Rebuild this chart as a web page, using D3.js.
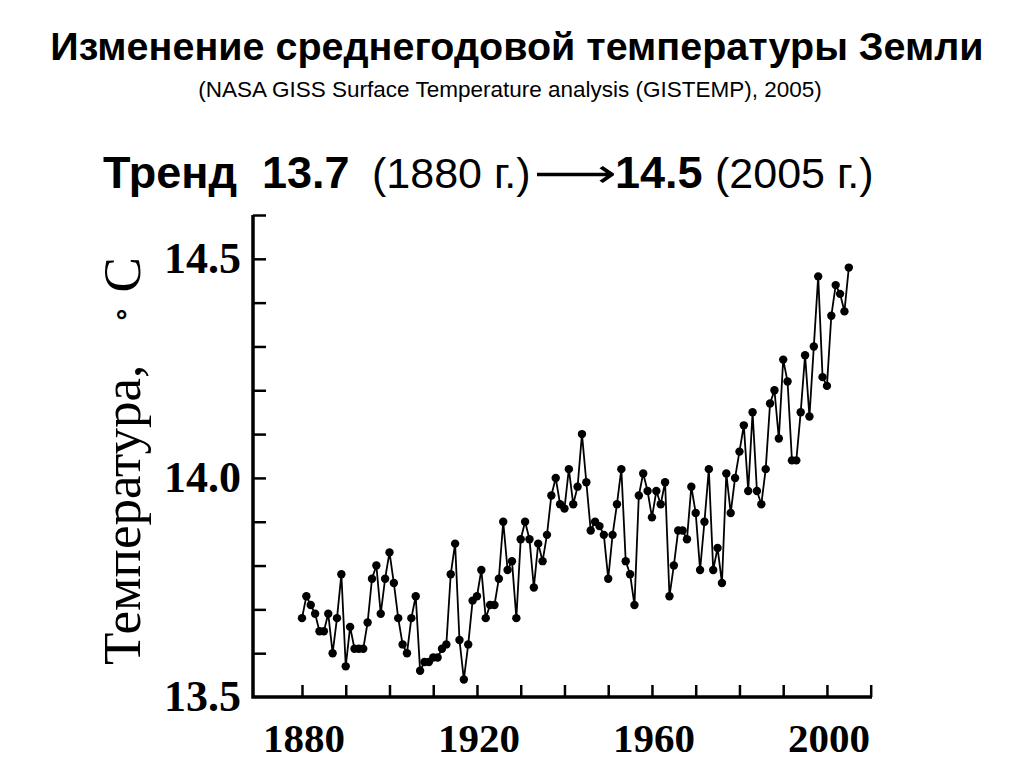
<!DOCTYPE html>
<html>
<head>
<meta charset="utf-8">
<script src="https://cdn.jsdelivr.net/npm/d3@7"></script>
<style>
  body { margin: 0; background: #fff; }
</style>
</head>
<body>
<div id="chart"></div>
<script>
// Annual mean temperature, deg C, one value per year starting 1880
var firstYear = 1880;
var temps = [
  13.68, 13.73, 13.71, 13.69, 13.65, 13.65, 13.69, 13.60, 13.68, 13.78,
  13.57, 13.66, 13.61, 13.61, 13.61, 13.67, 13.77, 13.80, 13.69, 13.77,
  13.83, 13.76, 13.68, 13.62, 13.60, 13.68, 13.73, 13.56, 13.58, 13.58,
  13.59, 13.59, 13.61, 13.62, 13.78, 13.85, 13.63, 13.54, 13.62, 13.72,
  13.73, 13.79, 13.68, 13.71, 13.71, 13.77, 13.90, 13.79, 13.81, 13.68,
  13.86, 13.90, 13.86, 13.75, 13.85, 13.81, 13.87, 13.96, 14.00, 13.94,
  13.93, 14.02, 13.94, 13.98, 14.10, 13.99, 13.88, 13.90, 13.89, 13.87,
  13.77, 13.87, 13.94, 14.02, 13.81, 13.78, 13.71, 13.96, 14.01, 13.97,
  13.91, 13.97, 13.94, 13.99, 13.73, 13.80, 13.88, 13.88, 13.86, 13.98,
  13.92, 13.79, 13.90, 14.02, 13.79, 13.84, 13.76, 14.01, 13.92, 14.00,
  14.06, 14.12, 13.97, 14.15, 13.97, 13.94, 14.02, 14.17, 14.20, 14.09,
  14.27, 14.22, 14.04, 14.04, 14.15, 14.28, 14.14, 14.30, 14.46, 14.23,
  14.21, 14.37, 14.44, 14.42, 14.38, 14.48
];

// Axis ticks
var xTicks = [1880, 1890, 1900, 1910, 1920, 1930, 1940, 1950, 1960, 1970, 1980, 1990, 2000, 2010];
var xTickLabels = [1880, 1920, 1960, 2000];
var yTicks = [13.6, 13.7, 13.8, 13.9, 14.0, 14.1, 14.2, 14.3, 14.4, 14.5, 14.6];
var yTickLabels = [13.5, 14.0, 14.5];

var data = temps.map(function(t, i) { return {year: firstYear + i, temp: t}; });

var width = 1024, height = 767;
var sans = "Liberation Sans, Arial, sans-serif";
var serif = "Liberation Serif, Times New Roman, serif";

var svg = d3.select("#chart").append("svg")
    .attr("width", width)
    .attr("height", height);

// Titles
svg.append("text")
    .attr("x", 517).attr("y", 60)
    .attr("text-anchor", "middle")
    .style("font-family", sans)
    .style("font-weight", "bold")
    .style("font-size", "39.5px")
    .text("Изменение среднегодовой температуры Земли");

svg.append("text")
    .attr("x", 510).attr("y", 97)
    .attr("text-anchor", "middle")
    .style("font-family", sans)
    .style("font-size", "22.5px")
    .text("(NASA GISS Surface Temperature analysis (GISTEMP), 2005)");

// Trend line, pieces placed one by one
var trendY = 188;
function trendText(xPos, txt, bold, size) {
  return svg.append("text")
      .attr("x", xPos).attr("y", trendY)
      .style("font-family", sans)
      .style("font-weight", bold ? "bold" : "normal")
      .style("font-size", size + "px")
      .text(txt);
}
trendText(103, "Тренд", true, 45);
trendText(262, "13.7", true, 45);
trendText(372, "(1880 г.)", false, 43);
trendText(615, "14.5", true, 45);
trendText(715, "(2005 г.)", false, 43);
svg.append("text")
    .attr("transform", "translate(534," + (trendY - 1) + ") scale(1.45,1)")
    .style("font-family", "DejaVu Sans")
    .style("font-size", "40px")
    .text("⟶");

// Scales
var x = d3.scaleLinear()
    .domain([1868.8, 2010.3])
    .range([253, 872]);

var y = d3.scaleLinear()
    .domain([13.5, 14.6])
    .range([697, 215]);

// Axes with inward ticks
var xAxis = svg.append("g")
    .attr("transform", "translate(0," + y(13.5) + ")")
    .call(d3.axisTop(x).tickValues(xTicks).tickSize(12).tickFormat(""));
xAxis.select(".domain").remove();
xAxis.selectAll("line").attr("stroke-width", 2.5);

var yAxis = svg.append("g")
    .attr("transform", "translate(" + x(1868.8) + ",0)")
    .call(d3.axisRight(y).tickValues(yTicks).tickSize(13).tickFormat(""));
yAxis.select(".domain").remove();
yAxis.selectAll("line").attr("stroke-width", 2.5);

svg.append("path")
    .attr("d", "M" + x(1868.8) + "," + y(14.6) + "V" + y(13.5) + "H" + x(2010.3))
    .attr("fill", "none")
    .attr("stroke", "#000")
    .attr("stroke-width", 3.5);

// Tick labels
svg.selectAll(".xlab")
    .data(xTickLabels)
  .enter().append("text")
    .attr("class", "xlab")
    .attr("x", function(d) { return x(d) + 2; })
    .attr("y", 752)
    .attr("text-anchor", "middle")
    .style("font-family", serif)
    .style("font-weight", "bold")
    .style("font-size", "41px")
    .text(function(d) { return d; });

svg.selectAll(".ylab")
    .data(yTickLabels)
  .enter().append("text")
    .attr("class", "ylab")
    .attr("x", 241)
    .attr("y", function(d) { return y(d) + 14; })
    .attr("text-anchor", "end")
    .style("font-family", serif)
    .style("font-weight", "bold")
    .style("font-size", "44px")
    .text(function(d) { return d3.format(".1f")(d); });

// Y axis title
var yTitle = svg.append("text")
    .attr("transform", "translate(140,461) rotate(-90)")
    .attr("text-anchor", "middle")
    .style("font-family", serif)
    .style("font-size", "53px");
yTitle.append("tspan").text("Температура,");
yTitle.append("tspan").attr("dx", 42).attr("dy", -8)
    .style("font-family", "DejaVu Serif").style("font-size", "33px").text("∘");
yTitle.append("tspan").attr("dx", 14).attr("dy", 8).text("C");

// Line and points
var line = d3.line()
    .x(function(d) { return x(d.year); })
    .y(function(d) { return y(d.temp); });

svg.append("path")
    .datum(data)
    .attr("d", line)
    .attr("fill", "none")
    .attr("stroke", "#000")
    .attr("stroke-width", 1.8);

svg.selectAll(".dot")
    .data(data)
  .enter().append("circle")
    .attr("class", "dot")
    .attr("cx", function(d) { return x(d.year); })
    .attr("cy", function(d) { return y(d.temp); })
    .attr("r", 4.2)
    .attr("fill", "#000");
</script>
</body>
</html>
